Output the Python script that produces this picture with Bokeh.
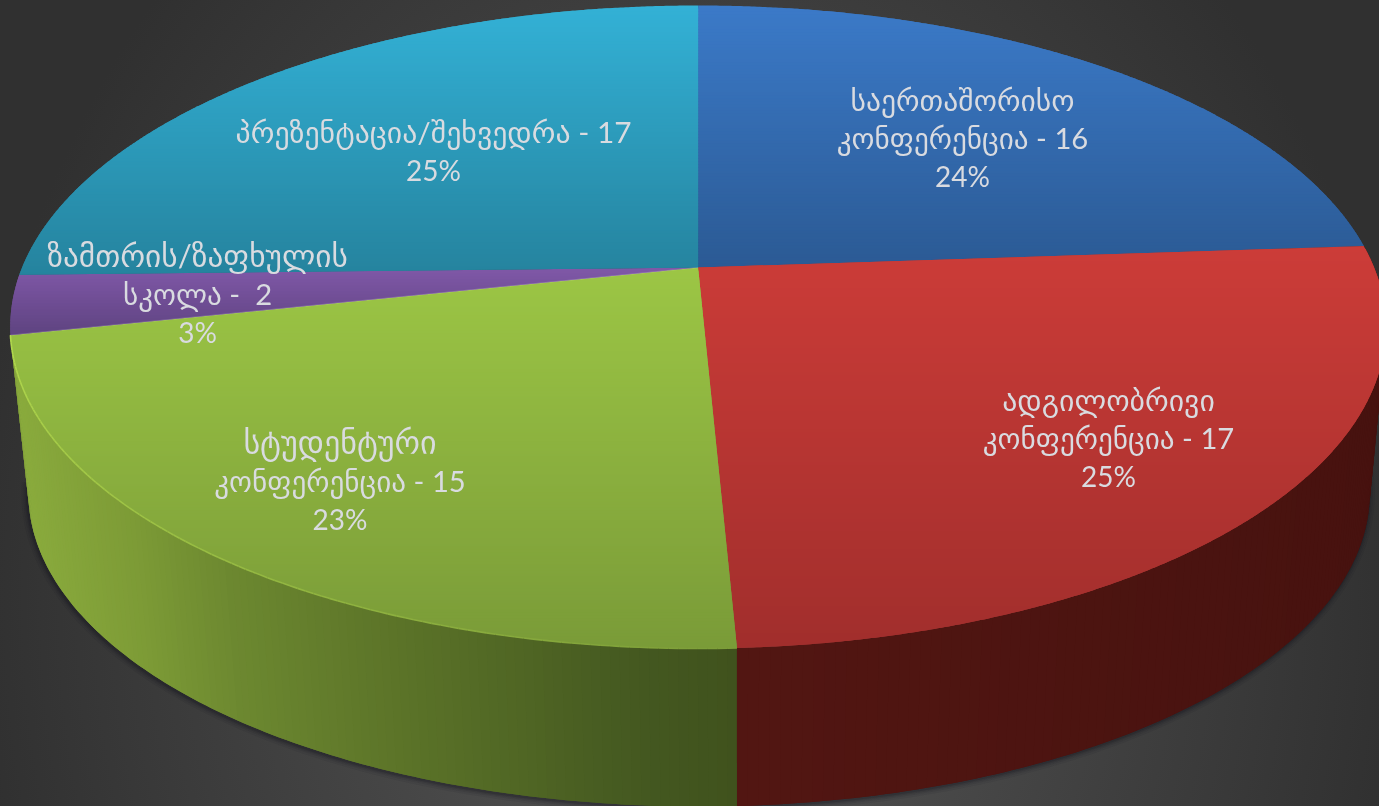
import numpy as np
from bokeh.plotting import figure
from bokeh.core.properties import value
from bokeh.embed import file_html
from bokeh.resources import INLINE

categories = ["საერთაშორისო კონფერენცია", "ადგილობრივი კონფერენცია",
              "სტუდენტური კონფერენცია", "ზამთრის/ზაფხულის სკოლა", "პრეზენტაცია/შეხვედრა"]
counts = [16, 17, 15, 2, 17]
percents = ["24%", "25%", "23%", "3%", "25%"]
top_colors = ["#3b7ac8", "#cc3c38", "#9cc645", "#8058a8", "#33b1d6"]
low_colors = ["#2b5a94", "#a12e2c", "#7a9b38", "#5e4380", "#25839e"]

label_lines = [
    ["საერთაშორისო", "კონფერენცია - 16", "24%"],
    ["ადგილობრივი", "კონფერენცია - 17", "25%"],
    ["სტუდენტური", "კონფერენცია - 15", "23%"],
    ["ზამთრის/ზაფხულის", "სკოლა -\u00a0 2", "3%"],
    ["პრეზენტაცია/შეხვედრა - 17", "25%"],
]
label_sizes = [
    [29.6, 29.2, 28],
    [29.8, 29.2, 28],
    [32, 29.2, 28],
    [31.3, 29.2, 28],
    [29.8, 28],
]
label_x = [962, 1108, 339.5, 197, 433]
label_y = [98.5, 398.5, 441, 254.5, 130.5]
line_gap = 38.5

# perspective of the pie, in pixels
CX, CY, A, B, K = 697.6, 267.0, 676.0, 310.5, 0.185
VX, VY, T = 737.0, 6967.0, 0.025


def rim(theta):
    X, Y = np.sin(theta), np.cos(theta)
    w = 1 + K * Y
    return CX + A * X / w, CY - B * Y / w


def floor(x, y):
    return x + T * (VX - x), y + T * (VY - y)


def hexrgb(c):
    return np.array([int(c[i:i + 2], 16) for i in (1, 3, 5)], float)


def rgbhex(v):
    return "#%02x%02x%02x" % tuple(int(round(a)) for a in v)


def clip(poly, y0, y1):
    def cut(pts, keep, bound):
        out = []
        for i in range(len(pts)):
            a, b = pts[i - 1], pts[i]
            ka, kb = keep(a[1]), keep(b[1])
            if ka != kb:
                t = (bound - a[1]) / (b[1] - a[1])
                out.append((a[0] + t * (b[0] - a[0]), bound))
            if kb:
                out.append(b)
        return out
    pts = cut(poly, lambda v: v >= y0, y0)
    return cut(pts, lambda v: v <= y1, y1) if pts else pts


p = figure(width=1379, height=806, x_range=(0, 1379), y_range=(806, 0),
           toolbar_location=None, output_backend="svg", min_border=0,
           outline_line_color=None, background_fill_alpha=0, border_fill_alpha=0)
p.axis.visible = False
p.grid.visible = False
p.styles = {"position": "fixed", "left": "0", "top": "0",
            "background": "radial-gradient(ellipse 720px 900px at 690px 600px, #585858, #303030)"}

total = sum(counts)
edges = 2 * np.pi * np.concatenate([[0], np.cumsum(counts)]) / total

# soft shadow under the wall
th = np.linspace(edges[1], edges[3] + 0.06, 240)
fx, fy = floor(*rim(th))
for w, a in [(12, 0.07), (8, 0.10), (5, 0.14), (2.5, 0.2)]:
    p.line(fx - 1, fy + 1, line_color="#14141e", line_width=w, line_alpha=a)

# walls of the two front slices, shaded along x; each quad overlaps the next
wall_x = {1: [737, 1379], 2: [12, 130, 230, 400, 640, 737]}
wall_c = {1: ["#521612", "#47120f"],
          2: ["#8aab3d", "#7d9b36", "#6c8830", "#5b7328", "#445820", "#40521d"]}
wx, wy, wc = [], [], []
for i in (2, 1):
    rgb = np.array([hexrgb(c) for c in wall_c[i]])
    th = np.linspace(edges[i], edges[i + 1], 120)
    x, y = rim(th)
    bx, by = floor(x, y)
    for j in range(len(th) - 1):
        e = min(j + 2, len(th) - 1)
        wx.append(list(x[j:e + 1]) + list(bx[j:e + 1])[::-1])
        wy.append(list(y[j:e + 1]) + list(by[j:e + 1])[::-1])
        xm = (x[j] + x[j + 1]) / 2
        wc.append(rgbhex([np.interp(xm, wall_x[i], rgb[:, k]) for k in range(3)]))
p.patches(wx, wy, fill_color=wc, line_color=None)

# top faces, shaded along y; each band overlaps the one after it
sx, sy, sc = [], [], []
for i in range(len(counts)):
    th = np.linspace(edges[i], edges[i + 1], max(8, int(counts[i] * 20)))
    x, y = rim(th)
    poly = [(CX, CY)] + list(zip(x, y))
    ys = [q[1] for q in poly]
    lo, hi = min(ys), max(ys)
    c0, c1 = hexrgb(top_colors[i]), hexrgb(low_colors[i])
    for y0 in np.arange(lo, hi, 3.0):
        piece = clip(poly, y0, min(y0 + 6.0, hi))
        if len(piece) < 3:
            continue
        f = (y0 + 1.5 - lo) / (hi - lo)
        sx.append([q[0] for q in piece])
        sy.append([q[1] for q in piece])
        sc.append(rgbhex(c0 + (c1 - c0) * f))
p.patches(sx, sy, fill_color=sc, line_color=None)

# bright rim above the green wall
th = np.linspace(edges[2], edges[3], 120)
x, y = rim(th)
rim_rgb = np.array([hexrgb("#7d9e39"), hexrgb("#b2d94e")])
rx = [[x[j], x[j + 1]] for j in range(len(x) - 1)]
ry = [[y[j], y[j + 1]] for j in range(len(x) - 1)]
rc = [rgbhex(rim_rgb[0] + (rim_rgb[1] - rim_rgb[0]) * j / (len(x) - 2)) for j in range(len(x) - 1)]
p.multi_line(rx, ry, line_color=rc, line_width=1.6)

# faint seam between purple and green
x, y = rim(edges[3:4])
p.multi_line([[CX, a] for a in x], [[CY, b] for b in y], line_color="#ffffff", line_alpha=0.2, line_width=1)

# labels
tx, ty, tt, ts = [], [], [], []
for lines, sizes, lx, ly in zip(label_lines, label_sizes, label_x, label_y):
    for n, s in enumerate(lines):
        tx.append(lx)
        ty.append(ly + n * line_gap)
        tt.append(s)
        ts.append(f"{sizes[n]}px")
p.text(x=tx, y=ty, text=tt, text_font=value("Lato, 'DejaVu Sans'"), text_font_size=ts,
       text_color="#d9dbe0", text_align="center", text_baseline="middle")

open("out.html", "w").write(file_html(p, INLINE))
